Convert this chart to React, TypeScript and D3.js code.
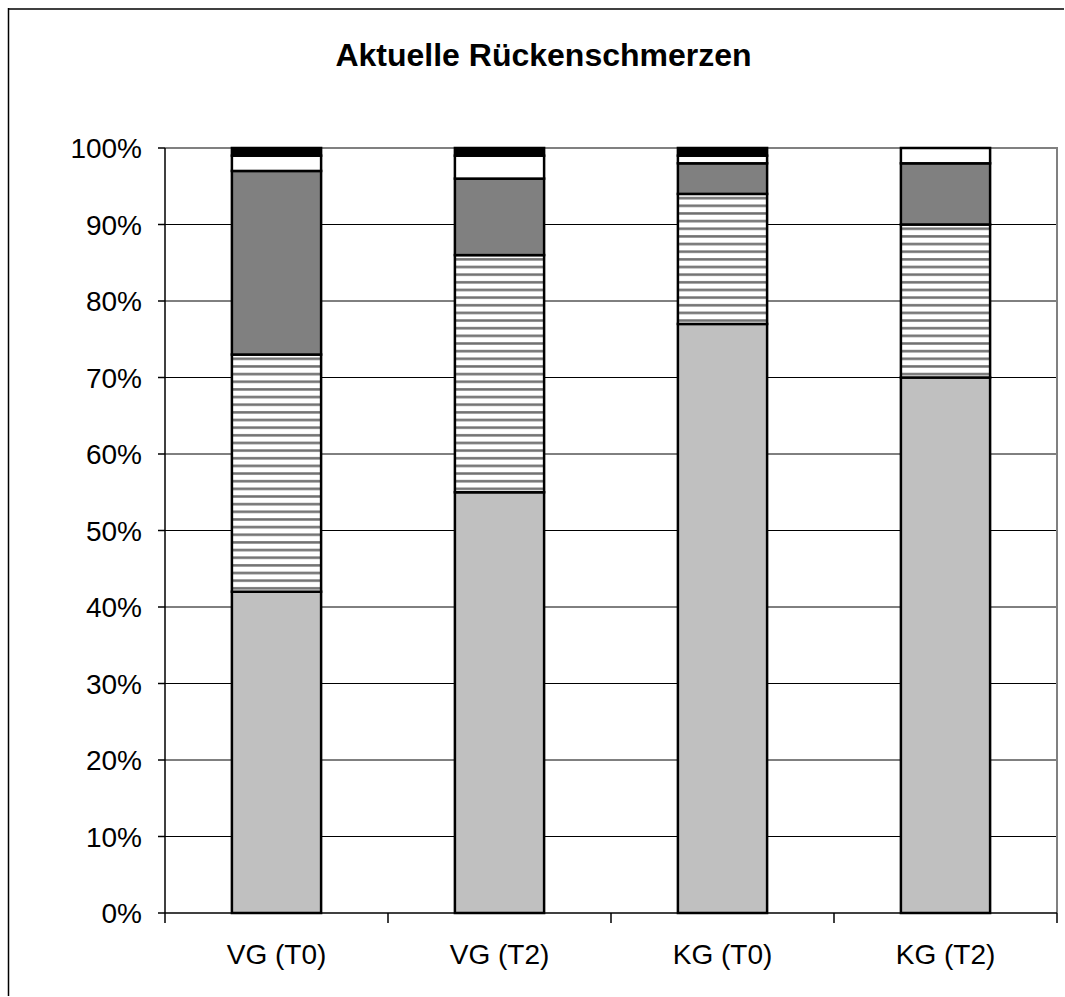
import React, { useEffect } from "react";
import * as d3 from "d3";

const title = "Aktuelle Rückenschmerzen";
const categories = ["VG (T0)", "VG (T2)", "KG (T0)", "KG (T2)"];
const seriesNames = ["keine", "leichte", "mittlere", "starke", "sehr starke"];
// percentages per category for each series (bottom to top)
const s0 = [42, 55, 77, 70];
const s1 = [31, 31, 17, 20];
const s2 = [24, 10, 4, 8];
const s3 = [2, 3, 1, 2];
const s4 = [1, 1, 1, 0];
const yTicks = [0, 10, 20, 30, 40, 50, 60, 70, 80, 90, 100];

const fills = ["#c0c0c0", "url(#hatch)", "#808080", "#ffffff", "#000000"];

export default function App() {
  useEffect(() => {
    document.documentElement.style.overflow = "hidden";
    document.body.style.overflow = "hidden";
  }, []);
  const W = 1064, H = 996;
  const left = 165, right = 1057, top = 148, bottom = 913;
  const x = d3.scaleBand<string>().domain(categories).range([left, right]).paddingInner(0.6).paddingOuter(0.3);
  const y = d3.scaleLinear().domain([0, 100]).range([bottom, top]);
  const rows = categories.map((c, i) => {
    const r: any = { cat: c };
    [s0, s1, s2, s3, s4].forEach((s, k) => (r[seriesNames[k]] = s[i]));
    return r;
  });
  const stacked = d3.stack<any>().keys(seriesNames)(rows);
  const step = x.step();
  const font = "'Liberation Sans', Arial, sans-serif";

  return (
    <svg width={W} height={H} style={{ position: "absolute", left: 0, top: 0 }} fontFamily={font}>
      <defs>
        <pattern id="hatch" patternUnits="userSpaceOnUse" width={10} height={7.65} y={top}>
          <rect width={10} height={7.65} fill="#fff" />
          <rect y={3} width={10} height={2.5} fill="#707070" />
        </pattern>
      </defs>
      <rect width={W} height={H} fill="#fff" />
      {/* outer frame */}
      <line x1={8} x2={W} y1={9} y2={9} stroke="#000" strokeWidth={1.5} />
      <line x1={8.5} x2={8.5} y1={8} y2={H} stroke="#000" strokeWidth={1.5} />
      <text x={543.5} y={66} textAnchor="middle" fontSize={32} fontWeight="bold">{title}</text>
      {/* gridlines */}
      {yTicks.filter((t) => t > 0 && t < 100).map((t) => (
        <line key={t} x1={left} x2={right} y1={y(t)} y2={y(t)} stroke="#000" strokeWidth={1} />
      ))}
      {/* plot border top/right */}
      <line x1={left} x2={right} y1={top} y2={top} stroke="#808080" strokeWidth={2} />
      <line x1={right} x2={right} y1={top - 1} y2={bottom} stroke="#808080" strokeWidth={2} />
      {/* bars */}
      {stacked.map((layer, k) => (
        <g key={seriesNames[k]}>
          {layer.map((d, i) => (d[1] - d[0] > 0 ? (
            <rect key={i} x={x(categories[i])!} width={x.bandwidth()} y={y(d[1])} height={y(d[0]) - y(d[1])}
              fill={fills[k]} stroke="#000" strokeWidth={2.5} />
          ) : null))}
        </g>
      ))}
      {/* y axis */}
      <line x1={left} x2={left} y1={top} y2={bottom} stroke="#000" strokeWidth={1.5} />
      {yTicks.map((t) => (
        <g key={t}>
          <line x1={left - 7} x2={left} y1={y(t)} y2={y(t)} stroke="#000" strokeWidth={1.5} />
          <text x={142} y={y(t)} dy="0.36em" textAnchor="end" fontSize={28}>{t}%</text>
        </g>
      ))}
      {/* x axis */}
      <line x1={left} x2={right} y1={bottom} y2={bottom} stroke="#000" strokeWidth={1.5} />
      {d3.range(categories.length + 1).map((i) => (
        <line key={i} x1={left + i * step} x2={left + i * step} y1={bottom} y2={bottom + 10} stroke="#000" strokeWidth={1.5} />
      ))}
      {categories.map((c) => (
        <text key={c} x={x(c)! + x.bandwidth() / 2} y={964} textAnchor="middle" fontSize={28}>{c}</text>
      ))}
    </svg>
  );
}
